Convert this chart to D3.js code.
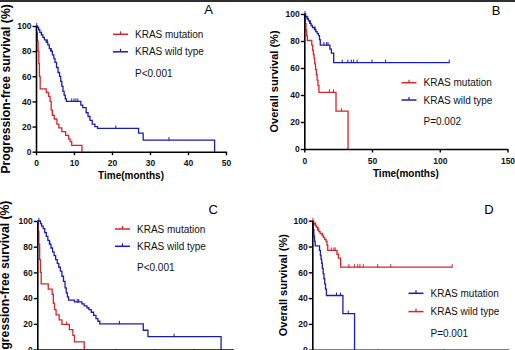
<!DOCTYPE html>
<html>
<head>
<meta charset="utf-8">
<script src="https://cdn.jsdelivr.net/npm/d3@7"></script>
<style>
  body { margin: 0; background: #fff; }
  svg { display: block; font-family: "Liberation Sans", Arial, sans-serif; }
</style>
</head>
<body>
<div id="chart"></div>
<script>
// ---- data ----
// panel A: progression-free survival
const pfsMutTimesA = [0.15, 0.35, 0.55, 0.75, 0.9, 1.1, 2.7, 3.3, 3.7, 4.0, 4.3, 4.8, 5.5, 6.0, 6.8, 7.8, 8.6, 9.0, 9.4, 12.1];
const pfsMutSurvA  = [95, 88, 80, 70, 60, 50, 47, 44, 40, 33, 29, 26, 22, 19, 16, 13, 10, 8, 5, 0];
const pfsMutCensA  = [];
const pfsWildTimesA = [0.3, 0.7, 1.0, 1.4, 1.8, 2.2, 2.7, 3.1, 3.5, 3.9, 4.3, 4.7, 5.0, 5.4, 5.8, 6.2, 6.5, 6.8, 7.1, 7.4, 7.7, 8.0,
                       11.8, 12.3, 13.2, 13.7, 14.2, 14.8, 15.5, 16.2, 27.0, 28.2, 47.0];
const pfsWildSurvA  = [99, 97, 95, 93, 91, 89, 87, 85, 82, 80, 77, 74, 71, 67, 63, 60, 56, 52, 48, 45, 42, 40,
                       37, 35, 31, 28, 25, 22, 20, 18.5, 14.8, 9.2, 0];
const pfsWildCensA  = [0.2, 1.5, 3.0, 4.0, 9.4, 10.0, 10.5, 11.0, 21.0, 35.0];

// panel C: progression-free survival
const pfsMutTimesC = [0.2, 0.4, 0.6, 0.8, 1.0, 2.8, 3.8, 4.1, 4.4, 4.8, 5.6, 6.3, 8.2, 9.1, 9.5, 12.0];
const pfsMutSurvC  = [92, 82, 70, 60, 51, 47, 43, 36, 31, 27, 23, 19.5, 15.5, 11, 6, 0];
const pfsMutCensC  = [7.5];
const pfsWildTimesC = [0.8, 1.1, 1.5, 1.9, 2.3, 2.7, 3.1, 3.5, 3.9, 4.3, 4.7, 5.1, 5.5, 5.9, 6.3, 6.7, 7.1, 7.4, 7.7, 8.0,
                       9.5, 11.4, 12.0, 12.7, 13.2, 13.8, 14.4, 15.0, 15.5, 16.0, 27.1, 28.3, 47.0];
const pfsWildSurvC  = [98, 96, 94, 91, 88, 85, 82, 79, 76, 73, 70, 67, 64, 61, 57, 53, 48, 44, 41, 38.5,
                       37, 35.5, 34, 32.5, 31, 29, 26.5, 24, 22, 20, 15, 10, 0];
const pfsWildCensC  = [0.4, 3.2, 10.2, 10.6, 21.0, 35.0];

// panels B and D: overall survival
const osMutTimes = [0.3, 0.7, 1.2, 1.7, 2.2, 5.5, 6.2, 6.7, 7.2, 7.7, 8.3, 8.9, 9.5, 10.1, 10.8, 23.4, 32.3];
const osMutSurv  = [97, 93, 88, 84, 80.5, 77, 73, 70, 67, 63, 59, 55, 51, 47, 42, 28, 0];
const osMutCens  = [18.5, 21.5, 27.5];
const osWildTimes = [1.0, 2.0, 3.0, 4.0, 5.0, 6.0, 7.5, 8.5, 9.5, 10.5, 11.2, 11.8, 18.9, 20.0, 21.7];
const osWildSurv  = [98, 96.5, 95, 93, 91.5, 90, 88.5, 87, 85.5, 84, 81, 77, 74, 71, 64];
const osWildCens  = [0.5, 2.5, 4.5, 8.0, 14.5, 16.5, 17.5, 28.0, 32.2, 34.7, 36.4, 39.0, 50.0, 60.0, 107.0];

const yTicks = [0, 20, 40, 60, 80, 100];
const pfsXTicks = [0, 10, 20, 30, 40, 50];
const osXTicks = [0, 50, 100, 150];
const legendNames = ["KRAS mutation", "KRAS wild type"];

const RED = "#d3262c";
const BLUE = "#1c1cb0";

const svg = d3.select("#chart").append("svg")
    .attr("width", 515)
    .attr("height", 350);

// dark strip along the top edge
svg.append("rect")
    .attr("x", 0).attr("y", 0)
    .attr("width", 515).attr("height", 2)
    .attr("fill", "#2e2e2e");

function survAt(times, surv, t) {
    let s = 100;
    for (let i = 0; i < times.length; i++) {
        if (times[i] <= t) s = surv[i];
    }
    return s;
}

function stepPoints(times, surv, end) {
    const pts = [[0, 100]];
    let prev = 100;
    times.forEach(function(t, i) {
        pts.push([t, prev]);
        pts.push([t, surv[i]]);
        prev = surv[i];
    });
    if (end != null) pts.push([end, prev]);
    return pts;
}

function drawPanel(p) {
    const x = d3.scaleLinear().domain([0, p.xMax]).range([p.left, p.right]);
    const y = d3.scaleLinear().domain([0, 100]).range([p.bottom, p.top]);
    const g = svg.append("g");

    // curves
    p.curves.forEach(function(c) {
        const line = d3.line().x(d => x(d[0])).y(d => y(d[1]));
        g.append("path")
            .attr("d", line(stepPoints(c.times, c.surv, c.end)))
            .attr("fill", "none")
            .attr("stroke", c.color)
            .attr("stroke-width", 1.3);
        g.selectAll(null)
            .data(c.cens)
            .enter()
            .append("line")
            .attr("x1", d => x(d)).attr("x2", d => x(d))
            .attr("y1", d => y(survAt(c.times, c.surv, d)) - 3)
            .attr("y2", d => y(survAt(c.times, c.surv, d)) + 0.5)
            .attr("stroke", c.color)
            .attr("stroke-width", 1);
    });

    // axes
    const xAxis = g.append("g")
        .attr("transform", "translate(0," + p.bottom + ")")
        .call(d3.axisBottom(x).tickValues(p.xTicks).tickSize(3.5).tickSizeOuter(0).tickPadding(5));
    const yAxis = g.append("g")
        .attr("transform", "translate(" + p.left + ",0)")
        .call(d3.axisLeft(y).tickValues(yTicks).tickSize(3.5).tickSizeOuter(0).tickPadding(1));
    [xAxis, yAxis].forEach(function(a) {
        a.select(".domain").attr("stroke", "#000").attr("stroke-width", 1.6);
        a.selectAll(".tick line").attr("stroke", "#000").attr("stroke-width", 1.4);
        a.selectAll(".tick text")
            .attr("fill", "#111")
            .style("font-size", "8.5px")
            .style("font-weight", "bold")
            .style("font-family", "'Liberation Sans', Arial, sans-serif");
    });

    // axis titles
    g.append("text")
        .attr("x", (p.left + p.right) / 2)
        .attr("y", p.bottom + 27.5)
        .attr("text-anchor", "middle")
        .style("font-size", "10px")
        .style("font-weight", "bold")
        .text("Time(months)");
    g.append("text")
        .attr("transform", "translate(" + p.yLabelX + "," + ((p.top + p.bottom) / 2) + ")rotate(-90)")
        .attr("text-anchor", "middle")
        .style("font-size", p.yLabelSize)
        .style("font-weight", "bold")
        .text(p.yLabel);

    // panel letter
    g.append("text")
        .attr("x", p.letterX).attr("y", p.letterY)
        .attr("text-anchor", "middle")
        .style("font-size", "13px")
        .text(p.letter);

    // legend
    p.curves.forEach(function(c, i) {
        const ly = p.legY + i * p.legGap;
        g.append("line")
            .attr("x1", p.legX).attr("x2", p.legX + 15)
            .attr("y1", ly).attr("y2", ly)
            .attr("stroke", c.color).attr("stroke-width", 1.5);
        g.append("line")
            .attr("x1", p.legX + 7.5).attr("x2", p.legX + 7.5)
            .attr("y1", ly - 3).attr("y2", ly)
            .attr("stroke", c.color).attr("stroke-width", 1.2);
        g.append("text")
            .attr("x", p.legX + 22).attr("y", ly + 3.5)
            .style("font-size", "10px")
            .attr("fill", "#111")
            .text(c.name);
    });
    g.append("text")
        .attr("x", p.legX + 22).attr("y", p.legY + 2 * p.legGap + 7.5)
        .style("font-size", "10px")
        .attr("fill", "#111")
        .text(p.pText);
}

drawPanel({
    letter: "A", letterX: 208.5, letterY: 14,
    left: 36, right: 226, top: 26, bottom: 151.7, xMax: 50, xTicks: pfsXTicks,
    yLabel: "Progression-free survival (%)", yLabelX: 10, yLabelSize: "12.2px",
    legX: 113, legY: 34.3, legGap: 17.5, pText: "P<0.001",
    curves: [
        { name: legendNames[0], color: RED, times: pfsMutTimesA, surv: pfsMutSurvA, cens: pfsMutCensA },
        { name: legendNames[1], color: BLUE, times: pfsWildTimesA, surv: pfsWildSurvA, cens: pfsWildCensA }
    ]
});

drawPanel({
    letter: "B", letterX: 496, letterY: 15,
    left: 304.3, right: 507.5, top: 14, bottom: 149, xMax: 150, xTicks: osXTicks,
    yLabel: "Overall survival (%)", yLabelX: 278, yLabelSize: "11px",
    legX: 401.5, legY: 82.7, legGap: 17.3, pText: "P=0.002",
    curves: [
        { name: legendNames[0], color: RED, times: osMutTimes, surv: osMutSurv, cens: osMutCens },
        { name: legendNames[1], color: BLUE, times: osWildTimes, surv: osWildSurv, cens: osWildCens, end: 107 }
    ]
});

drawPanel({
    letter: "C", letterX: 213.3, letterY: 214,
    left: 37.3, right: 232.8, top: 221, bottom: 349.5, xMax: 50, xTicks: pfsXTicks,
    yLabel: "Progression-free survival (%)", yLabelX: 8.5, yLabelSize: "12.2px",
    legX: 115, legY: 229, legGap: 17.3, pText: "P<0.001",
    curves: [
        { name: legendNames[0], color: RED, times: pfsMutTimesC, surv: pfsMutSurvC, cens: pfsMutCensC },
        { name: legendNames[1], color: BLUE, times: pfsWildTimesC, surv: pfsWildSurvC, cens: pfsWildCensC }
    ]
});

drawPanel({
    letter: "D", letterX: 489, letterY: 214,
    left: 312.3, right: 508.5, top: 220.7, bottom: 349.7, xMax: 150, xTicks: osXTicks,
    yLabel: "Overall survival (%)", yLabelX: 286.5, yLabelSize: "11px",
    legX: 408.5, legY: 293.3, legGap: 18.3, pText: "P=0.001",
    curves: [
        { name: legendNames[0], color: BLUE, times: osMutTimes, surv: osMutSurv, cens: osMutCens },
        { name: legendNames[1], color: RED, times: osWildTimes, surv: osWildSurv, cens: osWildCens, end: 107 }
    ]
});
</script>
</body>
</html>
